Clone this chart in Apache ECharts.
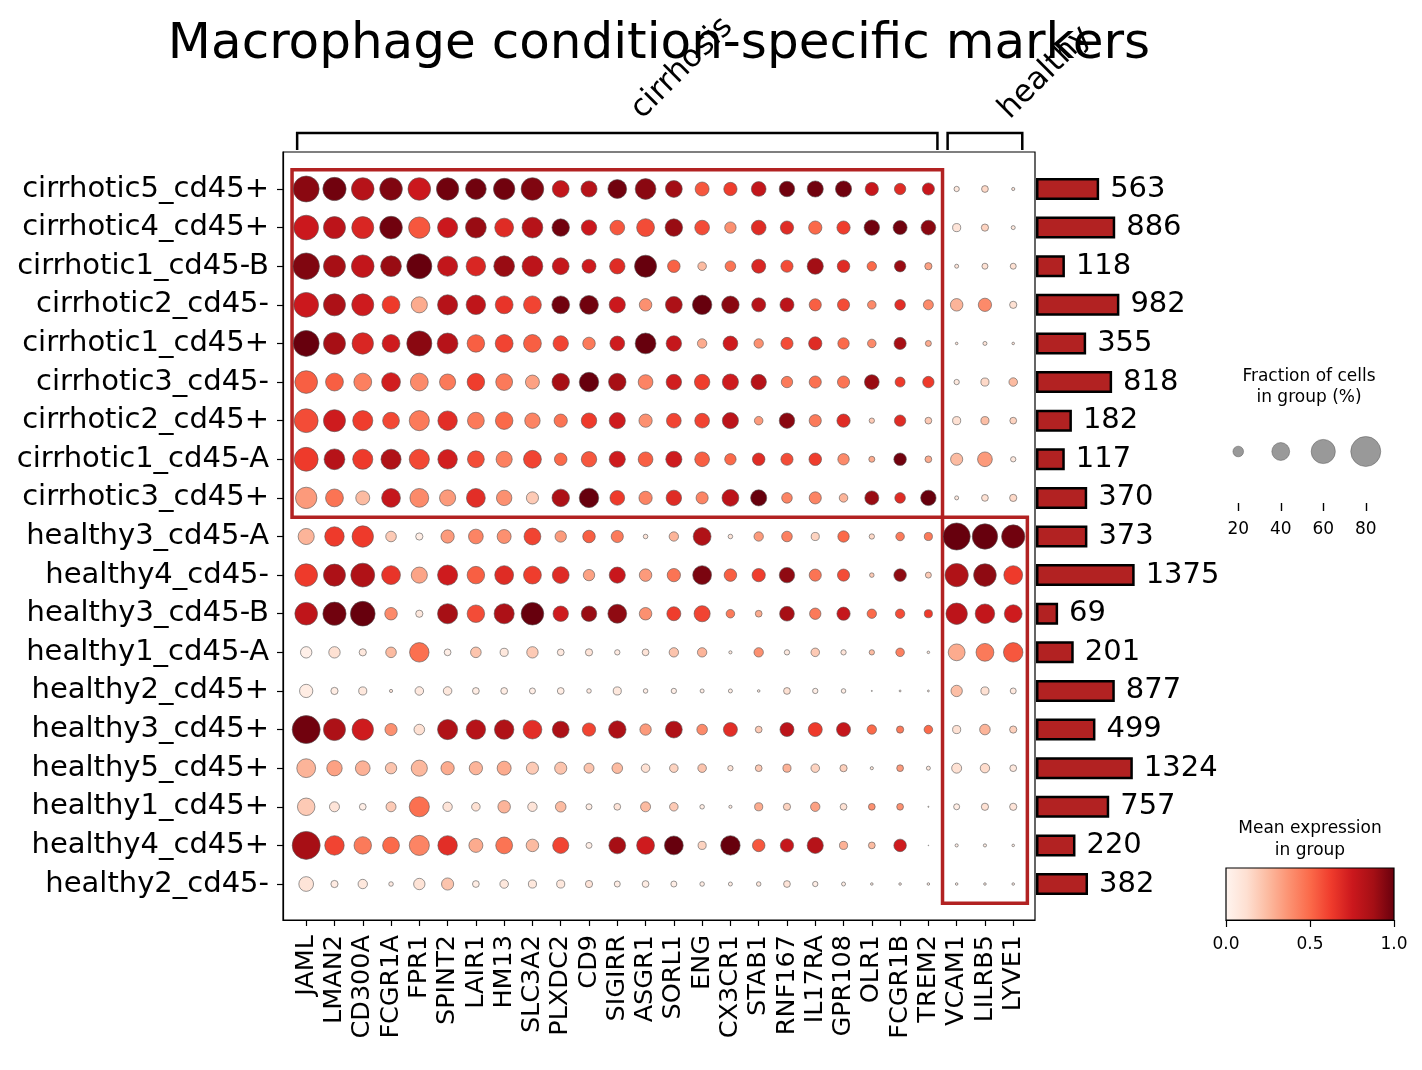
<!DOCTYPE html>
<html>
<head>
<meta charset="utf-8">
<title>Macrophage condition-specific markers</title>
<script src="https://cdn.jsdelivr.net/npm/echarts@6/dist/echarts.min.js"></script>
<style>
html, body { margin: 0; padding: 0; background: #fff; }
#chart { width: 1422px; height: 1070px; }
</style>
</head>
<body>
<div id="chart"></div>
<script>
var genes = ["JAML", "LMAN2", "CD300A", "FCGR1A", "FPR1", "SPINT2", "LAIR1", "HM13", "SLC3A2",
    "PLXDC2", "CD9", "SIGIRR", "ASGR1", "SORL1", "ENG", "CX3CR1", "STAB1", "RNF167", "IL17RA",
    "GPR108", "OLR1", "FCGR1B", "TREM2", "VCAM1", "LILRB5", "LYVE1"];

var samples = ["cirrhotic5_cd45+", "cirrhotic4_cd45+", "cirrhotic1_cd45-B", "cirrhotic2_cd45-",
    "cirrhotic1_cd45+", "cirrhotic3_cd45-", "cirrhotic2_cd45+", "cirrhotic1_cd45-A", "cirrhotic3_cd45+",
    "healthy3_cd45-A", "healthy4_cd45-", "healthy3_cd45-B", "healthy1_cd45-A", "healthy2_cd45+",
    "healthy3_cd45+", "healthy5_cd45+", "healthy1_cd45+", "healthy4_cd45+", "healthy2_cd45-"];

var cellCounts = [563, 886, 118, 982, 355, 818, 182, 117, 370, 373, 1375, 69, 201, 877, 499, 1324, 757, 220, 382];

// gene groups (column ranges) and the sample rows each one is boxed against
var groupNames = ["cirrhosis", "healthy"];
var groupGeneStart = [0, 23];
var groupGeneEnd = [22, 25];
var groupRowStart = [0, 9];
var groupRowEnd = [8, 18];

// fraction of cells in group (%), one row per sample, one column per gene
var fracPct = [
    [66, 57, 55, 55, 55, 54, 49, 51, 55, 37, 35, 43, 49, 37, 29, 27, 31, 33, 35, 35, 27, 22, 24, 8, 11, 4],
    [62, 53, 53, 55, 51, 47, 49, 43, 49, 39, 33, 31, 40, 39, 31, 22, 31, 27, 27, 27, 33, 29, 31, 14, 12, 5.5],
    [68, 53, 55, 49, 63, 47, 45, 49, 49, 37, 29, 33, 53, 25, 15, 20, 29, 24, 35, 25, 17, 22, 12, 5.5, 9.4, 9.4],
    [62, 53, 53, 40, 35, 47, 45, 40, 40, 40, 43, 35, 25, 37, 45, 39, 29, 29, 24, 24, 15, 20, 18.5, 25, 27, 12],
    [66, 53, 51, 40, 63, 49, 39, 40, 40, 33, 25, 31, 49, 33, 17, 31, 17, 24, 27, 22, 15, 24, 9.4, 3, 5.5, 3],
    [55, 40, 40, 43, 40, 35, 39, 37, 29, 39, 45, 39, 31, 33, 33, 35, 33, 22, 24, 24, 31, 18.5, 22, 8, 14, 15],
    [59, 53, 47, 37, 47, 45, 37, 39, 33, 27, 33, 35, 27, 31, 31, 35, 15, 33, 24, 27, 8, 22, 11, 14, 14, 11],
    [59, 49, 47, 47, 47, 45, 37, 35, 40, 25, 33, 35, 31, 35, 31, 22, 25, 24, 25, 22, 9.4, 25, 11, 24, 31, 8],
    [51, 40, 29, 43, 43, 35, 43, 33, 24, 39, 45, 31, 27, 33, 24, 37, 35, 20, 24, 15, 29, 20, 33, 5.5, 11, 12],
    [35, 45, 51, 20, 12, 27, 31, 29, 37, 22, 25, 24, 6.5, 17, 40, 6.5, 17, 20, 14, 22, 8, 15, 14, 70, 64, 57],
    [55, 53, 59, 43, 35, 47, 39, 43, 40, 37, 22, 35, 25, 27, 43, 25, 27, 33, 24, 24, 6.5, 25, 9.4, 57, 55, 43],
    [55, 57, 62, 25, 12, 47, 39, 47, 55, 33, 33, 43, 25, 29, 35, 15, 11, 31, 22, 27, 17, 17, 14, 51, 45, 40],
    [22, 22, 12, 20, 45, 11, 20, 14, 22, 11, 12, 8, 11, 17, 17, 4, 17, 8, 15, 8, 8, 15, 3, 37, 40, 45],
    [27, 12, 14, 4, 15, 15, 11, 11, 9.4, 11, 6.5, 14, 6.5, 8, 5.5, 5.5, 3, 11, 8, 6.5, 1, 2, 2, 22, 14, 9.4],
    [73, 53, 51, 24, 20, 47, 45, 45, 43, 37, 27, 39, 22, 37, 20, 29, 11, 29, 29, 29, 17, 12, 15, 14, 20, 12],
    [43, 33, 31, 22, 35, 27, 27, 29, 24, 24, 18.5, 20, 15, 15, 15, 8, 11, 14, 15, 12, 4, 11, 5.5, 18.5, 17, 11],
    [39, 18.5, 11, 18.5, 47, 17, 15, 25, 17, 20, 9.4, 11, 18.5, 15, 6.5, 4, 14, 12, 17, 11, 11, 11, 1, 9.4, 12, 12],
    [73, 45, 39, 37, 47, 45, 29, 37, 25, 35, 9.4, 37, 40, 43, 14, 45, 25, 27, 35, 14, 11, 25, 0.5, 4, 4, 3],
    [31, 12, 17, 6.5, 22, 24, 11, 15, 14, 14, 12, 9.4, 11, 9.4, 6.5, 5.5, 6.5, 11, 8, 5.5, 3, 3, 3, 3, 3, 3]
];

// mean expression in group (scaled 0..1), same layout as fracPct
var meanExpr = [
    [.93, .98, .82, .95, .75, .98, .98, .98, .95, .78, .82, .98, .93, .88, .55, .62, .78, .98, .98, .98, .76, .68, .76, .08, .15, .1],
    [.75, .8, .7, .98, .55, .75, .9, .68, .82, .98, .75, .55, .58, .9, .58, .38, .68, .68, .5, .62, .98, .98, .93, .1, .17, .08],
    [.95, .87, .78, .9, 1, .78, .7, .9, .8, .77, .74, .68, 1, .52, .25, .47, .7, .58, .88, .68, .5, .9, .33, .1, .12, .12],
    [.75, .85, .74, .63, .3, .82, .79, .65, .6, .98, .98, .75, .38, .85, 1, .93, .82, .8, .53, .58, .4, .67, .4, .27, .4, .12],
    [1, .87, .7, .74, .93, .82, .53, .6, .53, .6, .45, .74, 1, .77, .3, .74, .38, .58, .68, .5, .4, .87, .3, .1, .1, .1],
    [.53, .53, .43, .73, .4, .45, .62, .45, .33, .87, 1, .87, .42, .73, .62, .74, .82, .45, .48, .47, .9, .63, .63, .08, .15, .25],
    [.58, .74, .62, .59, .45, .67, .45, .5, .42, .47, .63, .74, .38, .6, .6, .8, .35, .93, .45, .68, .2, .68, .2, .12, .24, .17],
    [.63, .82, .63, .84, .59, .73, .58, .43, .6, .5, .55, .74, .53, .74, .53, .5, .68, .58, .62, .4, .3, .98, .3, .25, .35, .08],
    [.35, .47, .25, .77, .4, .35, .67, .38, .2, .85, 1, .63, .42, .68, .42, .8, 1, .42, .42, .27, .9, .68, 1, .08, .12, .15],
    [.27, .63, .63, .2, .05, .35, .42, .38, .6, .35, .53, .45, .1, .27, .84, .1, .35, .43, .17, .5, .15, .45, .45, 1, 1, .98],
    [.63, .85, .84, .65, .32, .74, .53, .68, .62, .68, .33, .76, .35, .47, .96, .53, .62, .92, .47, .58, .2, .92, .2, .84, .92, .63],
    [.79, .98, 1, .4, .08, .87, .58, .85, 1, .74, .9, .92, .38, .62, .6, .45, .3, .87, .45, .77, .5, .58, .63, .8, .78, .74],
    [.03, .12, .08, .25, .48, .04, .22, .08, .2, .07, .1, .06, .1, .22, .27, .08, .38, .07, .2, .1, .25, .43, .08, .3, .45, .55],
    [.05, .05, .08, .1, .07, .08, .05, .05, .04, .05, .06, .08, .04, .04, .05, .05, .06, .12, .04, .05, .05, .05, .05, .24, .12, .08],
    [.98, .85, .74, .38, .12, .84, .82, .84, .67, .85, .6, .85, .35, .84, .4, .67, .2, .8, .63, .77, .5, .45, .5, .12, .27, .18],
    [.27, .33, .28, .22, .26, .3, .27, .3, .2, .22, .22, .25, .12, .17, .22, .1, .2, .28, .17, .18, .08, .35, .08, .12, .14, .08],
    [.2, .1, .04, .2, .48, .1, .12, .27, .1, .25, .05, .1, .25, .2, .05, .06, .3, .17, .33, .12, .38, .38, .1, .05, .12, .1],
    [.87, .6, .45, .5, .42, .67, .3, .47, .25, .6, .04, .87, .74, 1, .17, 1, .55, .77, .82, .28, .25, .74, .1, .05, .05, .05],
    [.1, .06, .08, .06, .11, .22, .05, .08, .08, .08, .1, .05, .05, .04, .05, .05, .08, .1, .04, .05, .06, .06, .06, .06, .06, .06]
];

var sizeLegendPct = [20, 40, 60, 80];

// matplotlib "Reds"
var reds = ["#fff5f0", "#fee0d2", "#fcbba1", "#fc9272", "#fb6a4a", "#ef3b2c", "#cb181d", "#a50f15", "#67000d"];

var FONT = "DejaVu Sans";
var X_MIN = -0.82, X_MAX = 25.77;
var Y_MIN = -0.958, Y_MAX = 18.932;

function dotSize(pct) {
    return 30 * Math.pow(pct / 80, 0.75);
}

var geneIdx = genes.map(function (g, i) { return i; });
var rowIdx = samples.map(function (s, i) { return i; });

var dotData = [];
samples.forEach(function (s, r) {
    genes.forEach(function (g, c) {
        dotData.push([c, r, fracPct[r][c], meanExpr[r][c]]);
    });
});

var boxAreas = groupNames.map(function (name, k) {
    return [
        { coord: [groupGeneStart[k] - 0.5, groupRowStart[k] - 0.5] },
        { coord: [groupGeneEnd[k] + 0.5, groupRowEnd[k] + 0.5] }
    ];
});

var colorbarFill = new echarts.graphic.LinearGradient(0, 0, 1, 0, reds.map(function (c, i) {
    return { offset: i / (reds.length - 1), color: c };
}));

// axis lines sit on the grid frame, never on zero
var blackLine = { show: true, onZero: false, lineStyle: { color: "#000", width: 1.2 } };

var chart = echarts.init(document.getElementById("chart"), null, { renderer: "canvas" });

var option = {
    animation: false,
    backgroundColor: "#fff",
    textStyle: { fontFamily: FONT, color: "#000" },
    grid: [
        { left: 283, top: 152, width: 752, height: 768, show: true, borderColor: "#000", borderWidth: 1.2, backgroundColor: "rgba(0,0,0,0)" },
        { left: 1036, top: 169.7, width: 157, height: 733.6 },
        { left: 1217, top: 400, width: 170, height: 103 },
        { left: 1226, top: 868, width: 168, height: 52, show: true, borderColor: "#000", borderWidth: 1.2, backgroundColor: colorbarFill }
    ],
    xAxis: [
        {
            gridIndex: 0, type: "value", min: X_MIN, max: X_MAX,
            splitLine: { show: false }, axisLine: blackLine,
            axisTick: { show: true, customValues: geneIdx, length: 6, lineStyle: { color: "#000", width: 1.2 } },
            axisLabel: {
                customValues: geneIdx, rotate: 90, margin: 15, fontSize: 25.5, color: "#000", fontFamily: FONT,
                formatter: function (v) { return genes[v]; }
            }
        },
        { gridIndex: 1, type: "value", min: 0, max: 59, show: false },
        {
            gridIndex: 2, type: "category", data: sizeLegendPct.map(String),
            axisLine: { show: true, onZero: false, lineStyle: { color: "rgba(0,0,0,0)" } },
            axisTick: { show: true, alignWithLabel: true, length: 8, lineStyle: { color: "#000", width: 1.4 } },
            axisLabel: { fontSize: 17, color: "#000", margin: 18, fontFamily: FONT }
        },
        {
            gridIndex: 3, type: "value", min: 0, max: 1, interval: 0.5,
            splitLine: { show: false }, axisLine: blackLine,
            axisTick: { show: true, length: 7, lineStyle: { color: "#000", width: 1.2 } },
            axisLabel: { fontSize: 17, color: "#000", margin: 16, fontFamily: FONT, formatter: function (v) { return v.toFixed(1); } }
        }
    ],
    yAxis: [
        {
            gridIndex: 0, type: "value", inverse: true, min: Y_MIN, max: Y_MAX,
            splitLine: { show: false }, axisLine: blackLine,
            axisTick: { show: true, customValues: rowIdx, length: 6, lineStyle: { color: "#000", width: 1.2 } },
            axisLabel: {
                customValues: rowIdx, margin: 14, fontSize: 29, color: "#000", fontFamily: FONT,
                formatter: function (v) { return samples[v]; }
            }
        },
        { gridIndex: 1, type: "category", data: samples, inverse: true, show: false },
        { gridIndex: 2, type: "value", min: -1, max: 1, show: false },
        { gridIndex: 3, type: "value", min: 0, max: 1, show: false }
    ],
    visualMap: {
        type: "continuous", show: false, seriesIndex: 0, dimension: 3,
        min: 0, max: 1, inRange: { color: reds }
    },
    series: [
        {
            name: "dots", type: "scatter", xAxisIndex: 0, yAxisIndex: 0,
            data: dotData,
            symbolSize: function (v) { return dotSize(v[2]); },
            itemStyle: { borderColor: "#555", borderWidth: 0.6, opacity: 1 },
            emphasis: { disabled: true },
            markArea: {
                silent: true,
                itemStyle: { color: "rgba(0,0,0,0)", borderColor: "#b22222", borderWidth: 3.5 },
                label: { show: false },
                data: boxAreas
            }
        },
        {
            name: "cells", type: "bar", xAxisIndex: 1, yAxisIndex: 1,
            // bar length follows sqrt(number of cells)
            data: cellCounts.map(function (n) { return Math.sqrt(n); }),
            barWidth: 22,
            itemStyle: { color: "#b22222", borderColor: "#000", borderWidth: 2.5 },
            label: {
                show: true, position: "right", distance: 11, fontSize: 29, color: "#000", fontFamily: FONT,
                formatter: function (p) { return cellCounts[p.dataIndex]; }
            },
            emphasis: { disabled: true }
        },
        {
            name: "size legend", type: "scatter", xAxisIndex: 2, yAxisIndex: 2,
            data: sizeLegendPct.map(function (p, i) { return [i, 0, p]; }),
            symbolSize: function (v) { return dotSize(v[2]); },
            itemStyle: { color: "#808080", borderColor: "#555", borderWidth: 0.6 },
            emphasis: { disabled: true }
        }
    ]
};

chart.setOption(option);

// title, legend captions and the group brackets above the dot grid
var graphics = [
    { type: "text", x: 659, y: 45, style: { text: "Macrophage condition-specific markers", fontSize: 50, fontFamily: FONT, fill: "#000", align: "center", verticalAlign: "middle" } },
    { type: "text", x: 1309, y: 387, style: { text: "Fraction of cells\nin group (%)", fontSize: 17, lineHeight: 21, fontFamily: FONT, fill: "#000", align: "center", verticalAlign: "middle" } },
    { type: "text", x: 1310, y: 840, style: { text: "Mean expression\nin group", fontSize: 17, lineHeight: 22, fontFamily: FONT, fill: "#000", align: "center", verticalAlign: "middle" } }
];

groupNames.forEach(function (name, k) {
    var a = chart.convertToPixel({ gridIndex: 0 }, [groupGeneStart[k] - 0.32, Y_MIN]);
    var b = chart.convertToPixel({ gridIndex: 0 }, [groupGeneEnd[k] + 0.32, Y_MIN]);
    var top = a[1] - 19, foot = a[1] - 2;
    graphics.push({
        type: "polyline",
        shape: { points: [[a[0], foot], [a[0], top], [b[0], top], [b[0], foot]] },
        style: { stroke: "#000", lineWidth: 2.5, fill: null }
    });
    var mid = (a[0] + b[0]) / 2;
    graphics.push({
        type: "text", x: mid + 30, y: top - 8, rotation: Math.PI / 4,
        style: { text: name, fontSize: 31, fontFamily: FONT, fill: "#000", align: "left", verticalAlign: "bottom" }
    });
});

chart.setOption({ graphic: graphics });
</script>
</body>
</html>
